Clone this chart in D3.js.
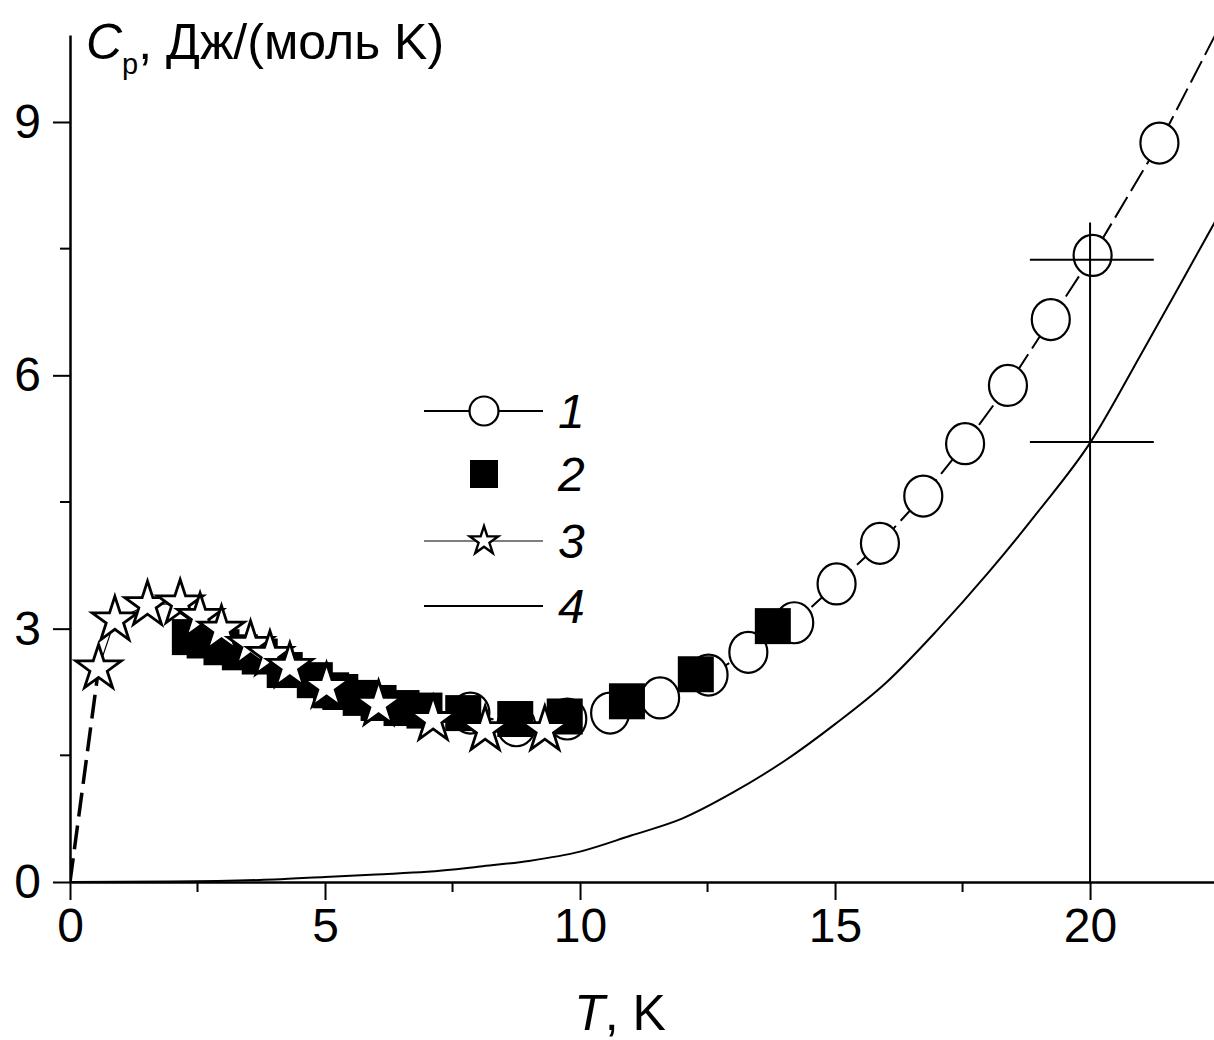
<!DOCTYPE html>
<html><head><meta charset="utf-8">
<script src="https://cdn.jsdelivr.net/npm/d3@7"></script>
<style>
body{margin:0;background:#fff}
svg{display:block}
text{font-family:"Liberation Sans",Arial,sans-serif;fill:#000}
</style>
</head><body>
<svg id="c" width="1214" height="1040"></svg>
<script>
// ---- data ----
const xTicks = [0, 5, 10, 15, 20];
const xMinorTicks = [2.5, 7.5, 12.5, 17.5];
const yTicks = [0, 3, 6, 9];
const yMinorTicks = [1.5, 4.5, 7.5];

// series 1 (open circles + dashed line)
const s1T  = [7.85, 8.75, 9.75, 10.59, 11.57, 12.52, 13.3, 14.2, 15.03, 15.88, 16.73, 17.55, 18.39, 19.23, 20.05, 21.36];
const s1Cp = [2.00, 1.85, 1.93, 2.00, 2.18, 2.45, 2.72, 3.07, 3.53, 4.01, 4.57, 5.19, 5.88, 6.66, 7.42, 8.75];
// continuation of curve 1 past the last point
const s1LineExtT = [22.6];
const s1LineExtCp = [10.2];

// series 2 (filled squares)
const s2T  = [2.35, 2.64, 2.97, 3.33, 3.72, 4.21, 4.80, 5.12, 5.30, 5.70, 6.05, 6.50, 6.95, 7.71, 8.73, 9.70, 10.92, 12.27, 13.78];
const s2Cp = [2.90, 2.86, 2.78, 2.72, 2.67, 2.51, 2.39, 2.27, 2.25, 2.18, 2.12, 2.06, 2.03, 2.00, 1.93, 1.96, 2.14, 2.46, 3.03];

// series 3 (open stars + thin line)
const s3T  = [0.56, 0.88, 1.52, 2.16, 2.55, 2.97, 3.54, 3.92, 4.31, 5.03, 6.05, 7.12, 8.14, 9.31];
const s3Cp = [2.53, 3.10, 3.28, 3.30, 3.14, 2.99, 2.81, 2.69, 2.55, 2.31, 2.10, 1.92, 1.80, 1.80];
// dashed extrapolation to zero
const s3ExtT  = [0, 0.56];
const s3ExtCp = [0, 2.53];

// series 4 (solid line)
const s4T  = [0, 2, 4, 5, 6, 7, 8, 9, 10, 11, 12, 13, 14, 15, 16, 17, 18, 19, 20, 21, 22, 22.6];
const s4Cp = [0, 0.005, 0.03, 0.06, 0.09, 0.12, 0.18, 0.25, 0.36, 0.55, 0.75, 1.06, 1.43, 1.87, 2.36, 2.98, 3.66, 4.40, 5.20, 6.25, 7.33, 7.98];

// error cross at T = 20
const errT = 20;
const errVertCp = [0, 7.81];
const errBarCp = [7.37, 5.21];
const errBarT = [18.82, 21.25];

const legendLabels = ["1", "2", "3", "4"];

// ---- drawing ----
const W = 1214, H = 1040;
const svg = d3.select("#c");
const x = d3.scaleLinear([0, 22.43], [70, 1214]);
const y = d3.scaleLinear([0, 10.03], [882, 35]);

const zip = (a, b) => a.map((v, i) => [v, b[i]]);
const line = d3.line().x(d => x(d[0])).y(d => y(d[1]));

svg.append("defs").append("clipPath").attr("id", "clip")
  .append("rect").attr("x", 70).attr("y", 0).attr("width", W - 70).attr("height", 882);

const plot = svg.append("g").attr("clip-path", "url(#clip)");

// curve 4
plot.append("path").datum(zip(s4T, s4Cp))
  .attr("d", line.curve(d3.curveMonotoneX)).attr("fill", "none").attr("stroke", "#000").attr("stroke-width", 2);
line.curve(d3.curveLinear);

// curve 1 line
plot.append("path").datum(zip(s1T.concat(s1LineExtT), s1Cp.concat(s1LineExtCp)))
  .attr("d", line).attr("fill", "none").attr("stroke", "#000").attr("stroke-width", 2)
  .attr("stroke-dasharray", "24,7");

// curve 3 dashed extrapolation
plot.append("path").datum(zip(s3ExtT, s3ExtCp))
  .attr("d", line).attr("fill", "none").attr("stroke", "#000").attr("stroke-width", 3.5)
  .attr("stroke-dasharray", "24,9");

// curve 3 thin line
plot.append("path").datum(zip(s3T, s3Cp))
  .attr("d", line).attr("fill", "none").attr("stroke", "#000").attr("stroke-width", 1.2);

// circles
plot.append("g").selectAll("ellipse").data(zip(s1T, s1Cp)).join("ellipse")
  .attr("cx", d => x(d[0])).attr("cy", d => y(d[1]))
  .attr("rx", 19).attr("ry", 20.5)
  .attr("fill", "#fff").attr("stroke", "#000").attr("stroke-width", 2.2);

// squares
const sq = 36;
plot.append("g").selectAll("rect").data(zip(s2T, s2Cp)).join("rect")
  .attr("x", d => x(d[0]) - sq / 2).attr("y", d => y(d[1]) - sq / 2)
  .attr("width", sq).attr("height", sq).attr("fill", "#000");

// stars
const starBig = d3.symbol(d3.symbolStar).size(640);
plot.append("g").selectAll("path").data(zip(s3T, s3Cp)).join("path")
  .attr("transform", d => `translate(${x(d[0])},${y(d[1])})`)
  .attr("d", starBig).attr("fill", "#fff").attr("stroke", "#000")
  .attr("stroke-width", 2.8).attr("stroke-linejoin", "miter");

// error cross
const eg = svg.append("g").attr("stroke", "#000").attr("stroke-width", 2);
eg.append("line").attr("x1", x(errT)).attr("x2", x(errT))
  .attr("y1", y(errVertCp[0])).attr("y2", y(errVertCp[1]));
errBarCp.forEach(v => {
  eg.append("line").attr("x1", x(errBarT[0])).attr("x2", x(errBarT[1]))
    .attr("y1", y(v)).attr("y2", y(v));
});

// axes
const xAxis = d3.axisBottom(x).tickValues(xTicks).tickSize(18).tickSizeOuter(0)
  .tickPadding(8).tickFormat(d3.format("d"));
const gx = svg.append("g").attr("transform", "translate(0,882)").call(xAxis);
gx.select(".domain").attr("stroke-width", 2.5);
gx.selectAll(".tick line").attr("stroke-width", 2);
gx.selectAll(".tick text").attr("font-size", 48).attr("font-family", null);
gx.selectAll(".minor").data(xMinorTicks).join("line").attr("class", "minor")
  .attr("x1", d => x(d)).attr("x2", d => x(d)).attr("y1", 0).attr("y2", 10)
  .attr("stroke", "#000").attr("stroke-width", 2);

const yAxis = d3.axisLeft(y).tickValues(yTicks).tickSize(17).tickSizeOuter(0)
  .tickPadding(12).tickFormat(d3.format("d"));
const gy = svg.append("g").attr("transform", "translate(70,0)").call(yAxis);
gy.select(".domain").attr("stroke-width", 2.5);
gy.selectAll(".tick line").attr("stroke-width", 2);
gy.selectAll(".tick text").attr("font-size", 48).attr("font-family", null);
gy.selectAll(".minor").data(yMinorTicks).join("line").attr("class", "minor")
  .attr("x1", -10).attr("x2", 0).attr("y1", d => y(d)).attr("y2", d => y(d))
  .attr("stroke", "#000").attr("stroke-width", 2);

// axis titles
const yt = svg.append("text").attr("x", 86).attr("y", 59).attr("font-size", 50);
yt.append("tspan").attr("font-style", "italic").text("C");
yt.append("tspan").attr("font-size", 29).attr("dy", 15).text("p");
yt.append("tspan").attr("dy", -15).text(", Дж/(моль K)");

const xt = svg.append("text").attr("x", 620).attr("y", 1030).attr("font-size", 50)
  .attr("text-anchor", "middle");
xt.append("tspan").attr("font-style", "italic").text("T");
xt.append("tspan").text(", K");

// legend
const lg = svg.append("g");
const rows = [411, 474, 541, 606];
const lx0 = 424, lx1 = 543, lmx = 484;
// 1
lg.append("line").attr("x1", lx0).attr("x2", lx1).attr("y1", rows[0]).attr("y2", rows[0])
  .attr("stroke", "#000").attr("stroke-width", 2);
lg.append("ellipse").attr("cx", lmx).attr("cy", rows[0]).attr("rx", 14.5).attr("ry", 14.5)
  .attr("fill", "#fff").attr("stroke", "#000").attr("stroke-width", 2.2);
// 2
lg.append("rect").attr("x", lmx - 14).attr("y", rows[1] - 14).attr("width", 28).attr("height", 28)
  .attr("fill", "#000");
// 3
lg.append("line").attr("x1", lx0).attr("x2", lx1).attr("y1", rows[2]).attr("y2", rows[2])
  .attr("stroke", "#000").attr("stroke-width", 1.2);
lg.append("path").attr("transform", `translate(${lmx},${rows[2]})`)
  .attr("d", d3.symbol(d3.symbolStar).size(250)).attr("fill", "#fff")
  .attr("stroke", "#000").attr("stroke-width", 2.4);
// 4
lg.append("line").attr("x1", lx0).attr("x2", lx1).attr("y1", rows[3]).attr("y2", rows[3])
  .attr("stroke", "#000").attr("stroke-width", 2);
lg.selectAll("text.lab").data(legendLabels).join("text").attr("class", "lab")
  .attr("x", 558).attr("y", (d, i) => rows[i] + 17).attr("font-size", 48)
  .attr("font-style", "italic").text(d => d);
</script>
</body></html>
